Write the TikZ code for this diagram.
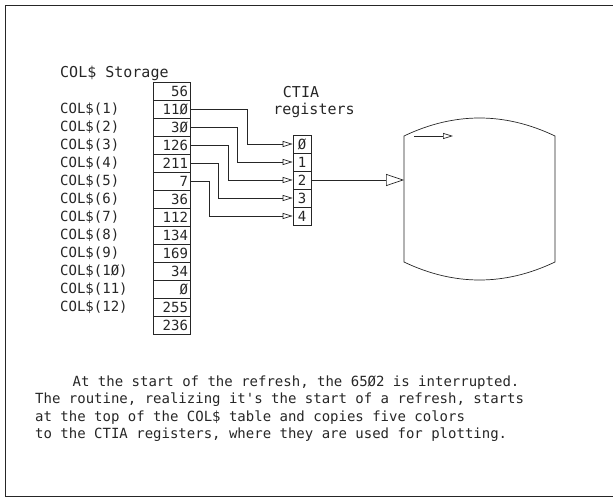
\documentclass[tikz,border=0pt]{standalone}
\usepackage{fontspec}
\setmainfont{DejaVu Sans Mono}
\usetikzlibrary{arrows.meta}
\begin{document}
\begin{tikzpicture}[x=1pt,y=-1pt,
  ink/.style={draw=black!85, line width=0.7pt},
  txt/.style={text=black!85, font=\fontsize{14}{14}\selectfont},
  cell/.style={ink, txt, minimum width=37pt, minimum height=18pt, text width=33pt, align=right, inner sep=2pt},
  reg/.style={ink, txt, minimum width=18pt, minimum height=18pt, inner sep=0pt},
  lbl/.style={txt, anchor=west, inner sep=0pt},
  tip/.style={ink, -{Triangle[open,length=10pt,width=6pt]}},
  bigtip/.style={ink, -{Triangle[open,length=18pt,width=12pt]}}]
\useasboundingbox (0,0) rectangle (613,500);
% frame
\draw[ink] (613,5) -- (5,5) -- (5,496) -- (613,496);
% storage
\node[lbl, font=\fontsize{15}{15}\selectfont] (title) at (60,73) {COL\$ Storage};
\foreach \v [count=\i from 0] in {56,11Ø,3Ø,126,211,7,36,112,134,169,34,Ø,255,236}
  \node[cell] (s\i) at (171.5,{91+18*\i}) {\v};
\foreach \t [count=\i from 1] in {COL\$(1),COL\$(2),COL\$(3),COL\$(4),COL\$(5),COL\$(6),COL\$(7),COL\$(8),COL\$(9),COL\$(1Ø),COL\$(11),COL\$(12)}
  \node[lbl] (l\i) at (60,{91+18*\i}) {\t};
% registers
\node[txt, font=\fontsize{15}{15}\selectfont, inner sep=0pt] (ctia) at (301,92) {CTIA};
\node[txt, font=\fontsize{15}{15}\selectfont, inner sep=0pt] (regs) at (314,110) {registers};
\foreach \v [count=\j from 0] in {Ø,1,2,3,4}
  \node[reg] (r\j) at (302,{144+18*\j}) {\v};
% connectors
\draw[tip] (s1.east) -- ++(57,0) |- (r0.west);
\draw[tip] (s2.east) -- ++(47,0) |- (r1.west);
\draw[tip] (s3.east) -- ++(38,0) |- (r2.west);
\draw[tip] (s4.east) -- ++(28,0) |- (r3.west);
\draw[tip] (s5.east) -- ++(19,0) |- (r4.west);
% drum
\draw[ink] (404,136) .. controls (454.3,112) and (504.7,112) .. (555,136)
  -- (555,262) .. controls (504.7,286) and (454.3,286) .. (404,262) -- cycle;
\coordinate (drumL) at (404,180);
\draw[bigtip] (r2.east) -- (drumL);
\coordinate (ia) at (414,136);
\coordinate (ib) at (453,136);
\draw[tip] (ia) -- (ib);
% caption
\node[lbl] (c1) at (72.5,383) {At the start of the refresh, the 65Ø2 is interrupted.};
\node[lbl] (c2) at (35,400) {The routine, realizing it\textquotesingle s the start of a refresh, starts};
\node[lbl] (c3) at (35,417.5) {at the top of the COL\$ table and copies five colors};
\node[lbl] (c4) at (35,435) {to the CTIA registers, where they are used for plotting.};
\end{tikzpicture}
\end{document}
